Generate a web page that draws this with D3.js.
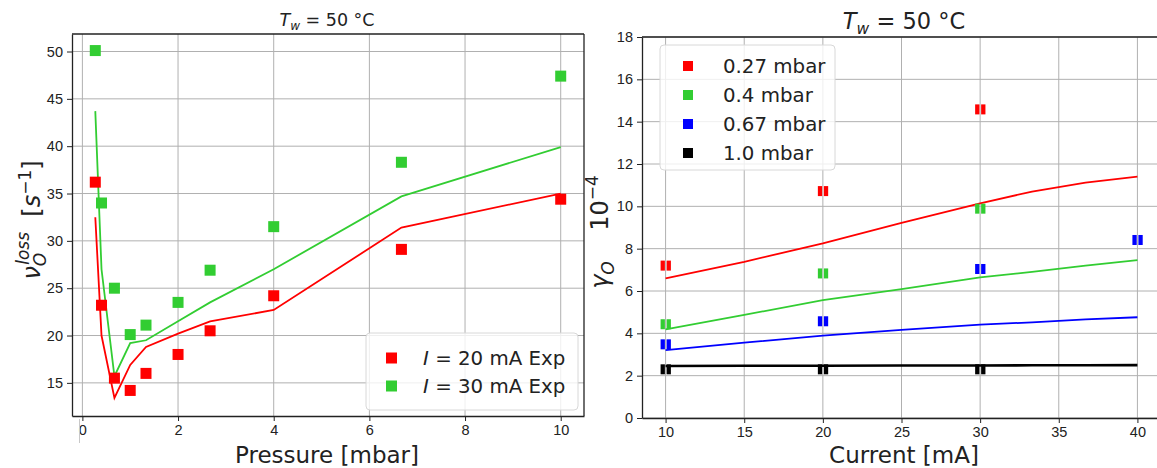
<!DOCTYPE html>
<html>
<head>
<meta charset="utf-8">
<script src="https://cdn.jsdelivr.net/npm/d3@7"></script>
<style>
  body { margin: 0; background: #fff; }
  svg { font-family: "DejaVu Sans", sans-serif; }
  .grid line { stroke: #b0b0b0; stroke-width: 1; }
  .axis path, .axis line { stroke: #222; }
  .axis text { fill: #222; font-size: 14.5px; }
</style>
</head>
<body>
<svg id="chart" width="1157" height="468"></svg>
<script>
// left panel: loss frequency vs pressure
var pressure = [0.27, 0.4, 0.67, 1.0, 1.33, 2.0, 2.67, 4.0, 6.67, 10];
var exp20 = [36.2, 23.2, 15.5, 14.2, 16.0, 18.0, 20.5, 24.2, 29.1, 34.4];
var exp30 = [50.1, 34.0, 25.0, 20.1, 21.1, 23.5, 26.9, 31.5, 38.3, 47.4];
var sim20 = [32.5, 20.0, 13.4, 16.9, 18.8, 20.2, 21.5, 22.7, 31.4, 35.0];
var sim30 = [43.7, 27.0, 15.7, 19.2, 19.5, 21.5, 23.5, 27.0, 34.7, 39.9];
var leftXTicks = [0, 2, 4, 6, 8, 10];
var leftYTicks = [15, 20, 25, 30, 35, 40, 45, 50];

// right panel: gamma vs current
var currentExp = [10, 20, 30, 40];
var g027 = [7.2, 10.72, 14.58, null];
var g04 = [4.43, 6.83, 9.89, null];
var g067 = [3.48, 4.57, 7.04, 8.41];
var g10 = [2.3, 2.3, 2.3, null];
var currentSim = [10, 15, 20, 25, 30, 33.3, 36.7, 40];
var s027 = [6.6, 7.38, 8.25, 9.22, 10.14, 10.7, 11.12, 11.4];
var s04 = [4.19, 4.87, 5.57, 6.09, 6.64, 6.9, 7.2, 7.46];
var s067 = [3.21, 3.56, 3.89, 4.16, 4.41, 4.52, 4.66, 4.76];
var s10 = [2.46, 2.47, 2.47, 2.48, 2.48, 2.49, 2.49, 2.5];
var rightXTicks = [10, 15, 20, 25, 30, 35, 40];
var rightYTicks = [0, 2, 4, 6, 8, 10, 12, 14, 16, 18];
var pressureLabels = ['0.27 mbar', '0.4 mbar', '0.67 mbar', '1.0 mbar'];

var RED = '#ff0000', GREEN = '#32cd32', BLUE = '#0000ff', BLACK = '#000000';

var svg = d3.select('#chart');

function zip(xs, ys) {
  return xs.map((x, i) => [x, ys[i]]).filter(d => d[1] != null);
}

function grid(g, x, y, xt, yt) {
  var gg = g.append('g').attr('class', 'grid');
  gg.selectAll('.gx').data(xt).enter().append('line')
    .attr('x1', d => x(d)).attr('x2', d => x(d))
    .attr('y1', y.range()[0]).attr('y2', y.range()[1]);
  gg.selectAll('.gy').data(yt).enter().append('line')
    .attr('y1', d => y(d)).attr('y2', d => y(d))
    .attr('x1', x.range()[0]).attr('x2', x.range()[1]);
}

function axes(g, x, y, xt, yt, box) {
  g.append('g').attr('class', 'axis')
    .attr('transform', 'translate(0,' + y.range()[0] + ')')
    .call(d3.axisBottom(x).tickValues(xt).tickSize(5).tickPadding(4).tickSizeOuter(0));
  g.append('g').attr('class', 'axis')
    .attr('transform', 'translate(' + x.range()[0] + ',0)')
    .call(d3.axisLeft(y).tickValues(yt).tickSize(5).tickPadding(4).tickSizeOuter(0));
  g.selectAll('.axis path').attr('stroke-width', 1.3);
  g.append('line').attr('stroke', '#222').attr('stroke-width', 1.3)
    .attr('x1', x.range()[0]).attr('x2', x.range()[1])
    .attr('y1', y.range()[1]).attr('y2', y.range()[1]);
  if (box) {
    g.append('line').attr('stroke', '#222').attr('stroke-width', 1.3)
      .attr('x1', x.range()[1]).attr('x2', x.range()[1])
      .attr('y1', y.range()[0]).attr('y2', y.range()[1]);
  }
}

function curve(g, x, y, pts, color, w) {
  g.append('path').datum(pts)
    .attr('fill', 'none').attr('stroke', color).attr('stroke-width', w)
    .attr('d', d3.line().x(d => x(d[0])).y(d => y(d[1])));
}

function squares(g, x, y, pts, color, s) {
  g.selectAll(null).data(pts).enter().append('rect')
    .attr('x', d => x(d[0]) - s / 2).attr('y', d => y(d[1]) - s / 2)
    .attr('width', s).attr('height', s).attr('fill', color);
}

function splitSquares(g, x, y, pts, color) {
  [-5, 1].forEach(off => {
    g.selectAll(null).data(pts).enter().append('rect')
      .attr('x', d => x(d[0]) + off).attr('y', d => y(d[1]) - 5)
      .attr('width', 4.3).attr('height', 10).attr('fill', color);
  });
}

// ---------- left panel ----------
var xL = d3.scaleLinear().domain([-0.217, 10.487]).range([72, 584]);
var yL = d3.scaleLinear().domain([11.5, 51.85]).range([416, 34]);
var gL = svg.append('g');
grid(gL, xL, yL, leftXTicks, leftYTicks);
curve(gL, xL, yL, zip(pressure, sim20), RED, 1.8);
curve(gL, xL, yL, zip(pressure, sim30), GREEN, 1.8);
squares(gL, xL, yL, zip(pressure, exp20), RED, 11);
squares(gL, xL, yL, zip(pressure, exp30), GREEN, 11);
axes(gL, xL, yL, leftXTicks, leftYTicks, true);

// faint stray tick line under the zero label
gL.append('line').attr('x1', 79.5).attr('x2', 79.5).attr('y1', 419).attr('y2', 443)
  .attr('stroke', '#c8c8c8').attr('stroke-width', 1);

var titleL = gL.append('text').attr('x', 327).attr('y', 26).attr('text-anchor', 'middle')
  .attr('font-size', 17.5).attr('fill', '#222');
titleL.append('tspan').attr('font-style', 'italic').text('T');
titleL.append('tspan').attr('font-style', 'italic').attr('font-size', 12).attr('dy', 4).text('w');
titleL.append('tspan').attr('dy', -4).text('\u00a0= 50 °C');

gL.append('text').attr('x', 327).attr('y', 463).attr('text-anchor', 'middle')
  .attr('font-size', 23).attr('fill', '#222').text('Pressure [mbar]');

var ylabL = gL.append('text').attr('transform', 'translate(40,220) rotate(-90)')
  .attr('text-anchor', 'middle').attr('font-size', 24).attr('fill', '#222');
ylabL.append('tspan').attr('font-style', 'italic').text('ν');
ylabL.append('tspan').attr('font-style', 'italic').attr('font-size', 17).attr('dy', 6).text('O');
ylabL.append('tspan').attr('font-style', 'italic').attr('font-size', 17).attr('dx', -12).attr('dy', -17).text('loss');
ylabL.append('tspan').attr('dy', 11).text('\u00a0\u00a0[');
ylabL.append('tspan').attr('font-style', 'italic').text('s');
ylabL.append('tspan').attr('font-size', 17).attr('dy', -9).text('−1');
ylabL.append('tspan').attr('dy', 9).text(']');

// left legend
var legL = gL.append('g');
legL.append('rect').attr('x', 366).attr('y', 333).attr('width', 212).attr('height', 77)
  .attr('rx', 4).attr('fill', '#fff').attr('fill-opacity', 0.8).attr('stroke', '#d8d8d8');
[['20', RED, 358], ['30', GREEN, 386]].forEach(e => {
  legL.append('rect').attr('x', 386).attr('y', e[2] - 5.5).attr('width', 11).attr('height', 11).attr('fill', e[1]);
  var t = legL.append('text').attr('x', 423).attr('y', e[2] + 7).attr('font-size', 19.8).attr('fill', '#222');
  t.append('tspan').attr('font-style', 'italic').text('I');
  t.append('tspan').text(' = ' + e[0] + ' mA Exp');
});

// ---------- right panel ----------
var xR = d3.scaleLinear().domain([8.5, 41.5]).range([642, 1161]);
var yR = d3.scaleLinear().domain([0, 18]).range([418, 37]);
var gR = svg.append('g');
grid(gR, xR, yR, rightXTicks, rightYTicks);
curve(gR, xR, yR, zip(currentSim, s027), RED, 1.8);
curve(gR, xR, yR, zip(currentSim, s04), GREEN, 1.8);
curve(gR, xR, yR, zip(currentSim, s067), BLUE, 1.8);
curve(gR, xR, yR, zip(currentSim, s10), BLACK, 2.6);
splitSquares(gR, xR, yR, zip(currentExp, g027), RED);
splitSquares(gR, xR, yR, zip(currentExp, g04), GREEN);
splitSquares(gR, xR, yR, zip(currentExp, g067), BLUE);
splitSquares(gR, xR, yR, zip(currentExp, g10), BLACK);
axes(gR, xR, yR, rightXTicks, rightYTicks, false);

var titleR = gR.append('text').attr('x', 904).attr('y', 29).attr('text-anchor', 'middle')
  .attr('font-size', 22.5).attr('fill', '#222');
titleR.append('tspan').attr('font-style', 'italic').text('T');
titleR.append('tspan').attr('font-style', 'italic').attr('font-size', 15.5).attr('dy', 5).text('w');
titleR.append('tspan').attr('dy', -5).text('\u00a0= 50 °C');

gR.append('text').attr('x', 904).attr('y', 463).attr('text-anchor', 'middle')
  .attr('font-size', 23).attr('fill', '#222').text('Current [mA]');

var ylabR = gR.append('text').attr('transform', 'translate(608,232) rotate(-90)')
  .attr('text-anchor', 'middle').attr('font-size', 24).attr('fill', '#222');
ylabR.append('tspan').attr('font-style', 'italic').text('γ');
ylabR.append('tspan').attr('font-style', 'italic').attr('font-size', 17).attr('dy', 6).text('O');
ylabR.append('tspan').attr('dy', -6).text('\u00a0\u00a0\u00a0\u00a010');
ylabR.append('tspan').attr('font-size', 17).attr('dy', -10).text('−4');

// right legend
var legR = gR.append('g');
legR.append('rect').attr('x', 660).attr('y', 45).attr('width', 175).attr('height', 125)
  .attr('rx', 4).attr('fill', '#fff').attr('fill-opacity', 0.8).attr('stroke', '#d8d8d8');
var legColors = [RED, GREEN, BLUE, BLACK];
pressureLabels.forEach((lab, i) => {
  var cy = 66 + i * 29;
  legR.append('rect').attr('x', 683).attr('y', cy - 5).attr('width', 10).attr('height', 10).attr('fill', legColors[i]);
  legR.append('text').attr('x', 723).attr('y', cy + 7).attr('font-size', 19.8).attr('fill', '#222').text(lab);
});
</script>
</body>
</html>
